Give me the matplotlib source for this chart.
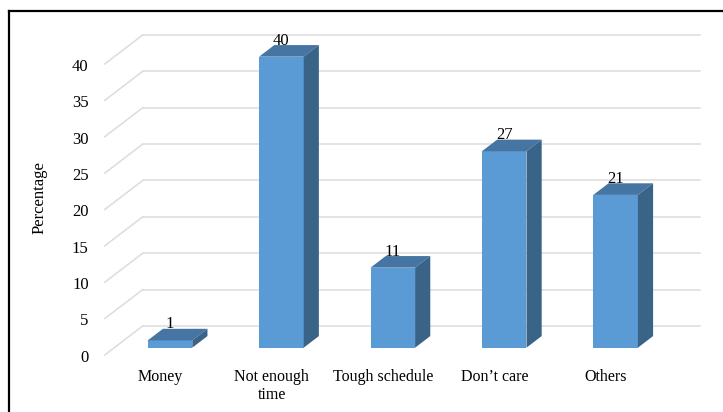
import numpy as np
import matplotlib.pyplot as plt
from matplotlib.patches import Polygon
from matplotlib.lines import Line2D

plt.rcParams['font.family'] = ['Liberation Serif', 'DejaVu Serif']

categories = ["Money", "Not enough\ntime", "Tough schedule", "Don\u2019t care", "Others"]
percentages = [1, 40, 11, 27, 21]
y_ticks = [0, 5, 10, 15, 20, 25, 30, 35, 40]

front_col = '#5B9BD5'
top_col = '#4675A3'
side_col = '#3A6388'
grid_col = '#DCDCDC'

# fake 3D: depth vector (floor front -> back wall) in data units
DX, DY = 0.341, 3.99
T_FRONT, T_BACK = 0.25, 0.65   # bar front/back depth as fraction of the floor
bar_w = 0.40

fig = plt.figure(figsize=(7.23, 4.12), dpi=100)
ax = fig.add_axes([0, 0, 1, 1])
ax.set_xlim(-1.526, 4.964)
ax.set_ylim(-8.84, 47.79)
ax.axis('off')

def shift(x, y, t):
    # move a point of the bar-front plane to floor depth t
    return x + (t - T_FRONT) * DX, y + (t - T_FRONT) * DY

x_left, x_right = -0.5, 4.5
for v in y_ticks:
    bx0, by0 = shift(x_left, v, 1.0)
    bx1, by1 = shift(x_right, v, 1.0)
    fx, fy = shift(x_left, v, 0.0)
    ax.plot([bx0, bx1], [by0, by1], color=grid_col, lw=1.1, zorder=1)
    ax.plot([fx, bx0], [fy, by0], color=grid_col, lw=1.1, zorder=1)
    ax.text(fx - 0.145, fy - 0.4, str(v), ha='right', va='center', fontsize=12)

x = np.arange(len(categories))
ax.bar(x, percentages, width=bar_w, color=front_col, zorder=3)

dx = (T_BACK - T_FRONT) * DX
dy = (T_BACK - T_FRONT) * DY
for xi, v in zip(x, percentages):
    l, r = xi - bar_w / 2, xi + bar_w / 2
    top = Polygon([(l, v), (r, v), (r + dx, v + dy), (l + dx, v + dy)],
                  closed=True, facecolor=top_col, edgecolor='none', zorder=3)
    side = Polygon([(r, 0), (r + dx, dy), (r + dx, v + dy), (r, v)],
                   closed=True, facecolor=side_col, edgecolor='none', zorder=3)
    ax.add_patch(top)
    ax.add_patch(side)
    ax.text(xi, v + dy + 0.6, str(v), ha='center', va='center', fontsize=12, zorder=4)

for xi, lab in zip(x, categories):
    lx, ly = shift(xi, 0, 0.0)
    ax.text(lx, ly - 1.95, lab, ha='center', va='top', fontsize=11.5, linespacing=1.15)

ax.text(-1.17, 20.6, 'Percentage', rotation=90, ha='center', va='center', fontsize=12)

# chart border (left and top edges visible)
fig.add_artist(Line2D([0.0118, 0.0118], [-0.01, 0.9733], color='black', lw=1.6,
                      transform=fig.transFigure))
fig.add_artist(Line2D([0.0118, 1.01], [0.9733, 0.9733], color='black', lw=1.6,
                      transform=fig.transFigure))

fig.savefig('out.png', dpi=100)
